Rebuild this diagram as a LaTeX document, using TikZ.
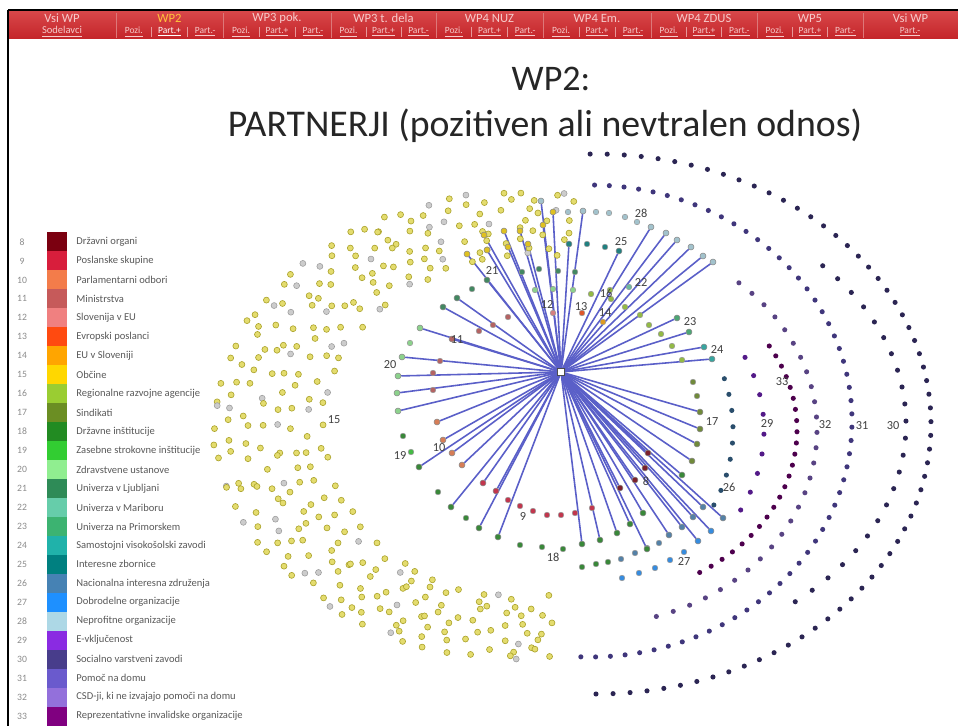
\documentclass[tikz,border=0pt]{standalone}
\usepackage{fontspec}
\setmainfont{Carlito}
\usetikzlibrary{positioning,backgrounds}
% category colours (legend 8--33)
\definecolor{c8}{HTML}{7B0010}
\definecolor{c9}{HTML}{D81E3C}
\definecolor{c10}{HTML}{F37C4A}
\definecolor{c11}{HTML}{C65A5A}
\definecolor{c12}{HTML}{F08080}
\definecolor{c13}{HTML}{FF4A10}
\definecolor{c14}{HTML}{FFA500}
\definecolor{c15}{HTML}{FFD700}
\definecolor{c16}{HTML}{9ACD32}
\definecolor{c17}{HTML}{6B8E23}
\definecolor{c18}{HTML}{228B22}
\definecolor{c19}{HTML}{32CD32}
\definecolor{c20}{HTML}{90EE90}
\definecolor{c21}{HTML}{2E8B57}
\definecolor{c22}{HTML}{66CDAA}
\definecolor{c23}{HTML}{3CB371}
\definecolor{c24}{HTML}{20B2AA}
\definecolor{c25}{HTML}{008080}
\definecolor{c26}{HTML}{4682B4}
\definecolor{c27}{HTML}{1E90FF}
\definecolor{c28}{HTML}{ADD8E6}
\definecolor{c29}{HTML}{8A2BE2}
\definecolor{c30}{HTML}{483D8B}
\definecolor{c31}{HTML}{6A5ACD}
\definecolor{c32}{HTML}{9370DB}
\definecolor{c33}{HTML}{800080}
\definecolor{hdr}{HTML}{C42529}
\definecolor{hdrtop}{HTML}{D8474A}
\definecolor{hdrtxt}{HTML}{F6CACA}
\definecolor{hdrsel}{HTML}{FFC13B}
\definecolor{edgecol}{HTML}{5A5FC8}
\definecolor{obc}{HTML}{E4DC6E}

\begin{document}
\begin{tikzpicture}[x=0.02cm,y=-0.02cm,
    hub/.style={rectangle,draw=black!70,fill=white,minimum size=3.6pt,inner sep=0pt,line width=0.4pt},
    dot/.style={circle,inner sep=0pt,minimum size=3.4pt,draw=black!45,line width=0.3pt},
    edge/.style={edgecol,line width=0.9pt},
    num/.style={font=\fontsize{7}{7}\selectfont,text=black!75,inner sep=0pt},
    hdrtitle/.style={font=\fontsize{7.2}{7.2}\selectfont,inner sep=0pt},
    hdrsub/.style={font=\fontsize{5.4}{5.4}\selectfont,text=hdrtxt,inner sep=0pt},
    legnum/.style={font=\fontsize{5.5}{5.5}\selectfont,text=black!45,inner sep=0pt},
    legtxt/.style={font=\fontsize{6}{6}\selectfont,text=black!65,inner sep=0pt,anchor=west}]
  \useasboundingbox (0,0) rectangle (958,726);
  \begin{pgfonlayer}{background}
    \fill[white] (0,0) rectangle (958,726);
  \end{pgfonlayer}

  % header bar
  \shade[top color=hdrtop,bottom color=hdr] (8,11) rectangle (958,39);
  \draw[black,line width=1.2pt] (8,10) -- (958,10);
  \draw[black,line width=1.2pt] (8,10) -- (8,726);
  \foreach \x in {116,223,331,436,543,651,757,863}
    \draw[hdrtxt!50!hdr,line width=0.4pt] (\x,13) -- (\x,38);
  \foreach \xa/\xb/\t/\col [count=\i] in {8/116/Vsi WP/hdrtxt,116/223/WP2/hdrsel,
      223/331/WP3 pok./hdrtxt,331/436/WP3 t. dela/hdrtxt,436/543/WP4 NUZ/hdrtxt,
      543/651/WP4 Em./hdrtxt,651/757/WP4 ZDUS/hdrtxt,757/863/WP5/hdrtxt,863/958/Vsi WP/hdrtxt}
    \node[hdrtitle,text=\col] (h\i) at ({(\xa+\xb)/2},18) {\t};
  \node[hdrsub,font=\fontsize{6}{6}\selectfont] (sub1) at (62,32) {\underline{Sodelavci}};
  \node[hdrsub] (sub9) at (910,32) {\underline{Part.-}};
  \foreach \xa/\xb/\pc [count=\i from 2] in {116/223/white,223/331/hdrtxt,331/436/hdrtxt,
      436/543/hdrtxt,543/651/hdrtxt,651/757/hdrtxt,757/863/hdrtxt}{
    \pgfmathsetmacro\w{(\xb-\xa)/3}
    \node[hdrsub] (s\i a) at (\xa+0.5*\w,32) {\underline{Pozi.}};
    \node[hdrsub,text=\pc] (s\i b) at (\xa+1.5*\w,32) {\underline{Part.+}};
    \node[hdrsub] (s\i c) at (\xa+2.5*\w,32) {\underline{Part.-}};
    \draw[hdrtxt!70!hdr,line width=0.3pt] (\xa+\w,27) -- (\xa+\w,37);
    \draw[hdrtxt!70!hdr,line width=0.3pt] (\xa+2*\w,27) -- (\xa+2*\w,37);
  }

  % titles
  \node[text=black!85] (title) at (551,79) {\fontsize{20.5}{20.5}\selectfont WP2:};
  \node[text=black!85] (subtitle) at (545,126) {\fontsize{21.5}{21.5}\selectfont PARTNERJI (pozitiven ali nevtralen odnos)};

  % legend
  \foreach \n/\txt [count=\i from 0] in {8/Državni organi,9/Poslanske skupine,
      10/Parlamentarni odbori,11/Ministrstva,12/Slovenija v EU,13/Evropski poslanci,
      14/EU v Sloveniji,15/Občine,16/Regionalne razvojne agencije,17/Sindikati,
      18/Državne inštitucije,19/Zasebne strokovne inštitucije,20/Zdravstvene ustanove,
      21/Univerza v Ljubljani,22/Univerza v Mariboru,23/Univerza na Primorskem,
      24/Samostojni visokošolski zavodi,25/Interesne zbornice,
      26/Nacionalna interesna združenja,27/Dobrodelne organizacije,
      28/Neprofitne organizacije,29/E-vključenost,30/Socialno varstveni zavodi,
      31/Pomoč na domu,32/{CSD-ji, ki ne izvajajo pomoči na domu},
      33/Reprezentativne invalidske organizacije}{
    \pgfmathsetmacro\yy{242+18.96*\i}
    \node[legnum] (ln\n) at (22,\yy) {\n};
    \fill[c\n] (47,\yy-9.5) rectangle (67,\yy+9.5);
    \node[legtxt] (lt\n) at (76,\yy) {\txt};
  }

  % Obcine crescent
  \pgfmathsetseed{7}
  \foreach \r in {0,...,7}{
    \pgfmathsetmacro\rx{208+15.3*\r}
    \pgfmathsetmacro\ry{172+8.7*\r}
    \pgfmathtruncatemacro\n{31+2*\r}
    \foreach \k in {0,...,\n}{
      \pgfmathsetmacro\t{83+190*\k/\n+2.5*rand}
      \pgfmathtruncatemacro\g{rnd>0.88}
      \ifnum\g=1
        \filldraw[fill=black!20,draw=black!40,line width=0.3pt]
          ({530+\rx*cos(\t)+3*rand},{426-\ry*sin(\t)+3*rand}) circle (1.7pt);
      \else
        \filldraw[fill=obc,draw=olive!75,line width=0.35pt]
          ({530+\rx*cos(\t)+3*rand},{426-\ry*sin(\t)+3*rand}) circle (1.7pt);
      \fi
    }
  }

  % outer arcs on the right
  \foreach \cx/\cy/\rx/\ry/\a/\b/\n/\col in {596/424/335/270/91/-90/62/c30,
      596/424/310/232/43/-50/22/c30,590/421/262/236/89/-92/56/c31,
      590/430/227/195/49/-73/27/c32,590/430/207/168/30/-58/23/c33,
      590/430/174/160/27/-30/8/c29,590/430/143/150/20/-30/8/c26}{
    \foreach \k in {0,...,\n}{
      \pgfmathsetmacro\t{\a+(\b-\a)*\k/\n}
      \fill[\col!60!black] ({\cx+\rx*cos(\t)},{\cy-\ry*sin(\t)}) circle (1.45pt);
    }
  }

  % loose dots of the inner ring
  \foreach \x/\y/\col in {568/212/c28,596/212/c28,609/213/c28,625/217/c28,637/222/c28,
      587/244/c25,605/247/c25,522/272/c21,539/269/c21,558/271/c21,575/272/c21,472/289/c21,
      535/290/c20,553/289/c20,573/290/c20,591/294/c16,610/290/c16,629/287/c22,611/299/c16,
      625/307/c16,640/315/c16,649/325/c16,661/334/c16,672/346/c16,682/360/c16,
      508/317/c11,493/325/c11,479/331/c11,553/313/c12,582/313/c13,603/322/c14,
      410/343/c20,440/361/c11,433/373/c11,433/390/c11,
      403/436/c18,411/452/c19,438/492/c18,466/518/c18,
      508/500/c9,520/506/c9,533/511/c9,547/515/c9,561/515/c9,575/513/c9,592/508/c9,
      520/545/c18,542/547/c18,563/549/c18,582/567/c18,596/564/c18,608/562/c18,
      621/559/c26,635/553/c26,647/548/c26,659/543/c26,
      622/578/c27,639/573/c27,655/568/c27,670/560/c27,684/552/c27,
      697/396/c17,693/382/c17}
    \filldraw[fill=\col!75!gray,draw=black!40,line width=0.3pt] (\x,\y) circle (1.6pt);

  % hub and its partners
  \node[hub] (hub) at (561,372) {};
  \foreach \x/\y/\col [count=\i] in {541/201/c28,553/212/c15,583/211/c28,543/225/c15,
      484/235/c15,504/231/c15,520/231/c15,528/244/c15,508/247/c15,467/254/c15,487/250/c15,
      569/244/c25,619/251/c25,651/227/c28,666/233/c28,677/240/c28,691/247/c28,703/256/c28,
      713/262/c28,677/318/c23,689/332/c23,704/347/c24,712/359/c24,
      420/328/c20,402/357/c20,398/376/c20,397/393/c20,398/411/c20,
      443/307/c21,457/298/c21,487/280/c21,452/339/c11,
      437/422/c10,443/440/c10,452/453/c10,462/465/c10,419/467/c18,
      483/483/c9,496/491/c9,451/507/c18,479/528/c18,498/537/c18,
      582/544/c18,600/540/c18,617/533/c18,630/524/c18,647/549/c18,669/535/c26,
      682/527/c26,698/541/c27,711/531/c27,723/518/c26,693/517/c26,703/507/c26,
      700/412/c17,700/429/c17,697/444/c17,692/461/c17,682/475/c18,
      643/513/c18,620/488/c8,635/480/c8,645/468/c8,648/453/c8}{
    \node[dot,fill=\col!75!gray] (p\i) at (\x,\y) {};
    \begin{pgfonlayer}{background}
      \draw[edge] (hub) -- (p\i);
    \end{pgfonlayer}
  }

  % category numbers
  \foreach \t/\x/\y [count=\i] in {28/641/213,25/621/242,21/492/271,12/547/305,13/581/307,
      16/606/293,22/641/283,14/605/313,23/690/322,24/717/350,11/457/340,20/390/365,
      17/712/422,26/729/487,27/684/562,18/553/557,9/523/517,8/646/481,10/439/448,
      19/400/456,15/334/420,33/782/382,29/767/424,32/825/425,31/862/426,30/893/426}
    \node[num] (lab\i) at (\x,\y) {\t};
\end{tikzpicture}
\end{document}
